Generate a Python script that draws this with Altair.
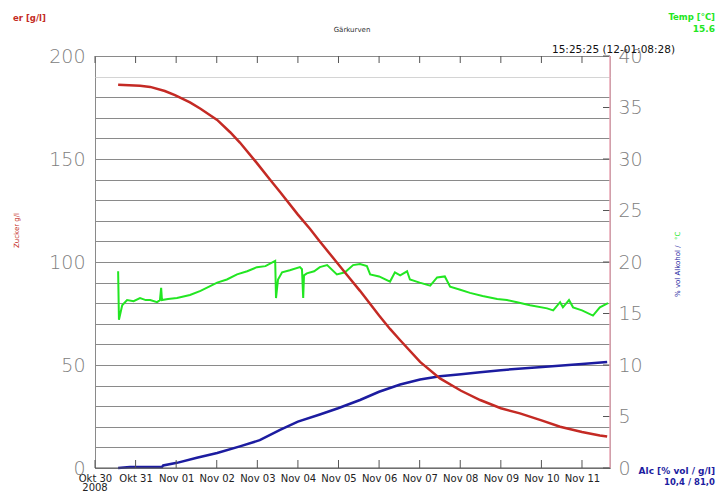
import altair as alt
import pandas as pd

# ---- data (days since Okt 30 2008, 00:00) ----
day_labels = ["Okt 30", "Okt 31", "Nov 01", "Nov 02", "Nov 03", "Nov 04", "Nov 05",
              "Nov 06", "Nov 07", "Nov 08", "Nov 09", "Nov 10", "Nov 11"]
tick_days = list(range(13))

sugar_day = [0.57, 1.11, 1.36, 1.72, 1.97, 2.34, 2.59, 3.01, 3.33, 3.57, 3.99, 4.31, 4.56,
             5.00, 5.30, 5.54, 5.99, 6.28, 6.53, 7.00, 7.27, 7.52, 8.01, 8.50, 9.02, 9.49,
             10.00, 10.47, 11.02, 11.46, 12.00, 12.44, 12.62]
sugar_val = [186, 185.5, 185, 183, 181, 177.5, 174.5, 169, 163, 158, 148, 140, 134,
             123, 116, 110, 99, 92, 86, 74, 67.5, 62, 51.5, 43.5, 37.5, 33,
             29, 26.5, 23, 20, 17.5, 15.8, 15.3]

alc_day = [0.57, 0.86, 1.65, 1.68, 2.02, 2.51, 3.01, 3.57, 4.06, 4.56, 5.00, 5.54, 5.99,
           6.53, 7.00, 7.52, 8.01, 8.50, 9.02, 9.49, 10.00, 11.02, 12.00, 12.62]
alc_val = [0.0, 0.1, 0.1, 0.25, 0.5, 1.0, 1.45, 2.1, 2.7, 3.7, 4.5, 5.2, 5.8,
           6.6, 7.4, 8.1, 8.6, 8.9, 9.1, 9.3, 9.5, 9.8, 10.1, 10.3]

temp_day = [0.57, 0.59, 0.67, 0.79, 0.95, 1.11, 1.25, 1.36, 1.53, 1.60, 1.63, 1.65, 1.80,
            2.02, 2.34, 2.60, 3.01, 3.25, 3.50, 3.75, 3.99, 4.20, 4.44, 4.46, 4.51, 4.61,
            4.80, 5.05, 5.10, 5.13, 5.15, 5.22, 5.40, 5.54, 5.72, 5.96, 6.16, 6.36, 6.53,
            6.70, 6.78, 7.00, 7.27, 7.39, 7.52, 7.69, 7.76, 8.00, 8.26, 8.43, 8.62, 8.75,
            9.00, 9.24, 9.55, 9.91, 10.15, 10.40, 10.72, 11.14, 11.29, 11.46, 11.53, 11.68,
            11.78, 12.00, 12.27, 12.44, 12.64]
temp_val = [19.1, 14.4, 15.8, 16.3, 16.2, 16.5, 16.3, 16.3, 16.1, 16.3, 17.5, 16.3, 16.4,
            16.5, 16.8, 17.2, 18.0, 18.3, 18.8, 19.1, 19.5, 19.6, 20.1, 16.5, 18.3, 19.0,
            19.2, 19.5, 19.3, 16.5, 18.7, 18.9, 19.1, 19.5, 19.7, 18.8, 19.0, 19.7, 19.8,
            19.6, 18.8, 18.6, 18.1, 19.0, 18.7, 19.1, 18.3, 18.0, 17.7, 18.5, 18.6, 17.6,
            17.3, 17.0, 16.7, 16.4, 16.3, 16.1, 15.8, 15.5, 15.3, 16.1, 15.6, 16.3,
            15.6, 15.3, 14.8, 15.6, 16.0]

left_values = list(range(0, 201, 10))
right_values = list(range(0, 41, 5))

W, H = 515, 412
RED, GREEN, BLUE = "#c42a24", "#22e622", "#1c1ca0"
FONT = "DejaVu Sans"

sugar_df = pd.DataFrame({"d": sugar_day, "v": sugar_val})
alc_df = pd.DataFrame({"d": alc_day, "v": alc_val})
temp_df = pd.DataFrame({"d": temp_day, "v": temp_val})
ticks_df = pd.DataFrame({"d": tick_days})
rticks_df = pd.DataFrame({"v": right_values})
one = pd.DataFrame({"a": [0]})

label_arr = "[" + ",".join("'" + s + "'" for s in day_labels) + "]"
x_enc = alt.X("d:Q", scale=alt.Scale(domain=[0, 12.69], nice=False, zero=False),
              axis=alt.Axis(values=tick_days, labelExpr=label_arr + "[datum.value]",
                            ticks=False, domain=False, grid=False, title=None,
                            labelFont=FONT, labelFontSize=10, labelColor="#222",
                            labelPadding=5, labelFlush=False, labelOverlap=False))

y_left = alt.Y("v:Q", scale=alt.Scale(domain=[0, 200], nice=False),
               axis=alt.Axis(orient="left", values=left_values,
                             labelExpr="datum.value % 50 == 0 ? datum.label : ''",
                             grid=True,
                             gridColor={"condition": {"test": "datum.value == 190",
                                                      "value": "#d4d4d4"},
                                        "value": "#8a8a8a"},
                             gridWidth=1,
                             ticks=False, domain=False, title=None,
                             labelFont=FONT, labelFontSize=19, labelFontWeight=200,
                             labelColor="#808080", labelPadding=10))
y_right = alt.Y("v:Q", scale=alt.Scale(domain=[0, 40], nice=False),
                axis=alt.Axis(orient="right", values=right_values, grid=False,
                              ticks=False, domain=False, title=None,
                              labelFont=FONT, labelFontSize=19, labelFontWeight=200,
                              labelColor="#808080", labelPadding=8))


def txt(s, x, y, color, size, weight="normal", align="left", baseline="alphabetic", angle=0):
    return alt.Chart(one).mark_text(text=s, color=color, fontSize=size, font=FONT,
                                    fontWeight=weight, align=align, baseline=baseline,
                                    angle=angle).encode(x=alt.value(x), y=alt.value(y))


sugar = alt.Chart(sugar_df).mark_line(color=RED, strokeWidth=2.5).encode(x=x_enc, y=y_left)
bottom_ticks = alt.Chart(ticks_df).mark_rule(color="#555").encode(
    x=x_enc, y=alt.value(H), y2=alt.value(H - 8))
top_ticks = alt.Chart(ticks_df).mark_rule(color="#555").encode(
    x=x_enc, y=alt.value(0), y2=alt.value(7))
right_border = alt.Chart(one).mark_rule(color="#e8a6b4", strokeWidth=1.5).encode(
    x=alt.value(W), y=alt.value(0), y2=alt.value(H))
bottom_border = alt.Chart(one).mark_rule(color="#555").encode(
    x=alt.value(0), x2=alt.value(W), y=alt.value(H))

texts = [
    txt("er [g/l]", -82, -35, RED, 8.5, "bold"),
    txt("Gärkurven", 257, -24, "#333", 7, align="center"),
    txt("Temp [°C]", 620, -36, GREEN, 8.5, "bold", align="right"),
    txt("15.6", 620, -24, GREEN, 9, "bold", align="right"),
    txt("15:25:25 (12-01:08:28)", 457, -3, "#111", 10.5),
    txt("Zucker g/l", -78, 192, RED, 7, baseline="middle", angle=270),
    txt("% vol Alkohol /", 583, 241, BLUE, 7, baseline="middle", angle=270),
    txt("°C", 583, 184, GREEN, 7, baseline="middle", angle=270),
    txt("Alc [% vol / g/l]", 620, 418, BLUE, 9, "bold", align="right"),
    txt("10,4 / 81,0", 620, 429, BLUE, 8.5, "bold", align="right"),
    txt("2008", 0, 435, "#222", 10, align="center"),
]

left = alt.layer(sugar, bottom_ticks, top_ticks, right_border, bottom_border, *texts)

temp = alt.Chart(temp_df).mark_line(color=GREEN, strokeWidth=2).encode(x=x_enc, y=y_right)
alc = alt.Chart(alc_df).mark_line(color=BLUE, strokeWidth=2.5).encode(x=x_enc, y=y_right)
right_ticks = alt.Chart(rticks_df).mark_rule(color="#555").encode(
    y=y_right, x=alt.value(W - 7), x2=alt.value(W))
right = alt.layer(temp, alc, right_ticks)

chart = alt.layer(right, left).resolve_scale(y="independent").properties(
    width=W, height=H,
    padding={"left": 87, "top": 48, "right": 110, "bottom": 28},
    autosize=alt.AutoSizeParams(type="none"),
).configure_view(stroke="#8a8a8a")

chart.save("out.html", embed_options={"renderer": "svg", "actions": False})
